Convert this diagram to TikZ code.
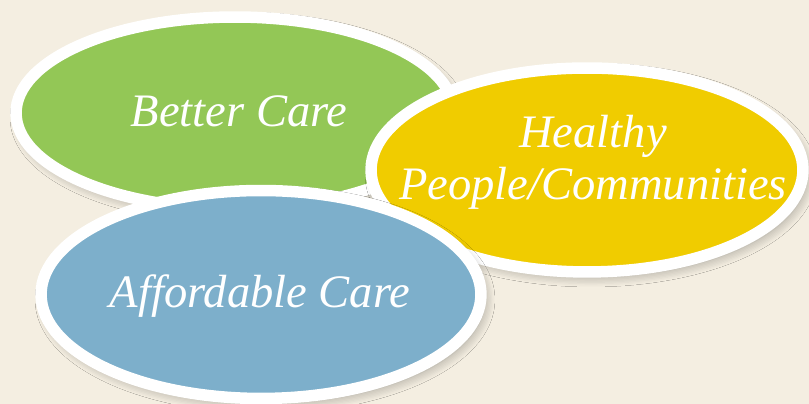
\documentclass[tikz,border=0pt]{standalone}
\usepackage{fontspec}
\setmainfont{Liberation Serif}
\usetikzlibrary{shapes.geometric,shadows.blur}
\definecolor{cream}{HTML}{F4EEE1}
\definecolor{leaf}{HTML}{93C756}
\definecolor{mustard}{HTML}{F0CC00}
\definecolor{skyblue}{HTML}{7DAFCB}

\begin{document}
\begin{tikzpicture}[x=0.02cm, y=0.02cm,
    oval/.style={ellipse, draw=white, line width=0.23cm, inner sep=0pt,
        blur shadow={shadow xshift=0.08cm, shadow yshift=-0.1cm, shadow blur radius=0.2cm, shadow blur steps=8, shadow opacity=35}},
    goal/.style={text=white, font=\fontsize{26.5}{29.5}\selectfont\itshape, align=center}
]
    % Background
    \fill[cream] (0,0) rectangle (809,404);
    \useasboundingbox (0,0) rectangle (809,404);

    % Ovals, back to front
    \node[oval, fill=leaf, minimum width=8.76cm, minimum height=3.84cm] (better) at (235,291) {};
    \node[oval, fill=mustard, minimum width=8.64cm, minimum height=4.08cm] (healthy) at (587,234) {};
    \node[oval, fill=skyblue, minimum width=8.8cm, minimum height=4.16cm] (affordable) at (261,109.5) {};

    % Labels
    \node[goal, anchor=base] (bettertext) at (239,277) {Better Care};
    \node[goal] (healthytext) at (593,242) {Healthy\\People/Communities};
    \node[goal, anchor=base] (affordabletext) at (260,96) {Affordable Care};

\end{tikzpicture}
\end{document}
